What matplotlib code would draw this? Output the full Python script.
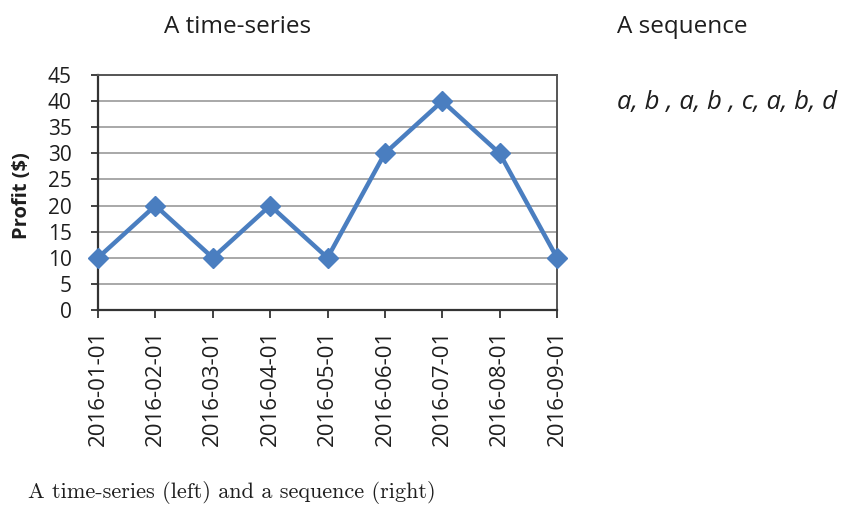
import matplotlib
matplotlib.use("Agg")
import matplotlib.pyplot as plt

# Monthly profit series
dates = ["2016-01-01", "2016-02-01", "2016-03-01", "2016-04-01", "2016-05-01",
         "2016-06-01", "2016-07-01", "2016-08-01", "2016-09-01"]
profit = [10, 20, 10, 20, 10, 30, 40, 30, 10]
y_ticks = [0, 5, 10, 15, 20, 25, 30, 35, 40, 45]
sequence_text = "a, b , a, b , c, a, b, d"

W, H = 843, 517
fig = plt.figure(figsize=(W / 100, H / 100), dpi=100)
fig.patch.set_facecolor("white")

sans = ["Open Sans", "DejaVu Sans"]
ax = fig.add_axes([98 / W, 1 - 310 / H, (557 - 98) / W, (310 - 75) / H])

x = list(range(len(dates)))
ax.plot(x, profit, color="#4a7ec0", lw=3.2, marker="D", ms=10,
        markerfacecolor="#4a7ec0", markeredgecolor="#4a7ec0",
        clip_on=False, zorder=5)

ax.set_xlim(0, len(dates) - 1)
ax.set_ylim(0, 45)
ax.set_yticks(y_ticks)
ax.set_yticklabels([str(v) for v in y_ticks], fontfamily=sans, fontsize=15,
                   color="#1e1e1e", fontweight="medium")
ax.set_xticks(x)
ax.set_xticklabels(dates, rotation=90, fontfamily=sans, fontsize=16,
                   color="#1e1e1e", fontweight="medium")
ax.grid(axis="y", color="#a8a8a8", lw=1.4)
ax.set_axisbelow(True)
ax.tick_params(axis="y", direction="out", length=5, width=1.3, color="#333333", pad=14)
ax.tick_params(axis="x", direction="out", length=6, width=1.3, color="#333333", pad=8)
for side in ["left", "bottom"]:
    ax.spines[side].set_color("#333333")
    ax.spines[side].set_linewidth(1.6)
for side in ["top", "right"]:
    ax.spines[side].set_color("#555555")
    ax.spines[side].set_linewidth(1.4)

ax.set_ylabel("Profit ($)", fontfamily=sans, fontsize=14.5, fontweight="bold",
              color="#1e1e1e")
ax.yaxis.set_label_coords((32 - 98) / (557 - 98), (310 - 196) / (310 - 75))

fig.text(238 / W, 1 - 27 / H, "A time-series", ha="center", va="center",
         fontfamily=sans, fontsize=17.5, color="#1e1e1e")
fig.text(617 / W, 1 - 27 / H, "A sequence", ha="left", va="center",
         fontfamily=sans, fontsize=17.5, color="#1e1e1e")
fig.text(617 / W, 1 - 102 / H, sequence_text, ha="left", va="center",
         fontfamily=sans, fontsize=18.5, style="italic", color="#1e1e1e")
fig.text(28 / W, 1 - 493 / H, "A time-series (left) and a sequence (right)",
         ha="left", va="center", fontfamily=["cmr10", "DejaVu Serif"],
         fontsize=16, color="#1e1e1e")

fig.savefig("out.png", dpi=100, facecolor="white")
